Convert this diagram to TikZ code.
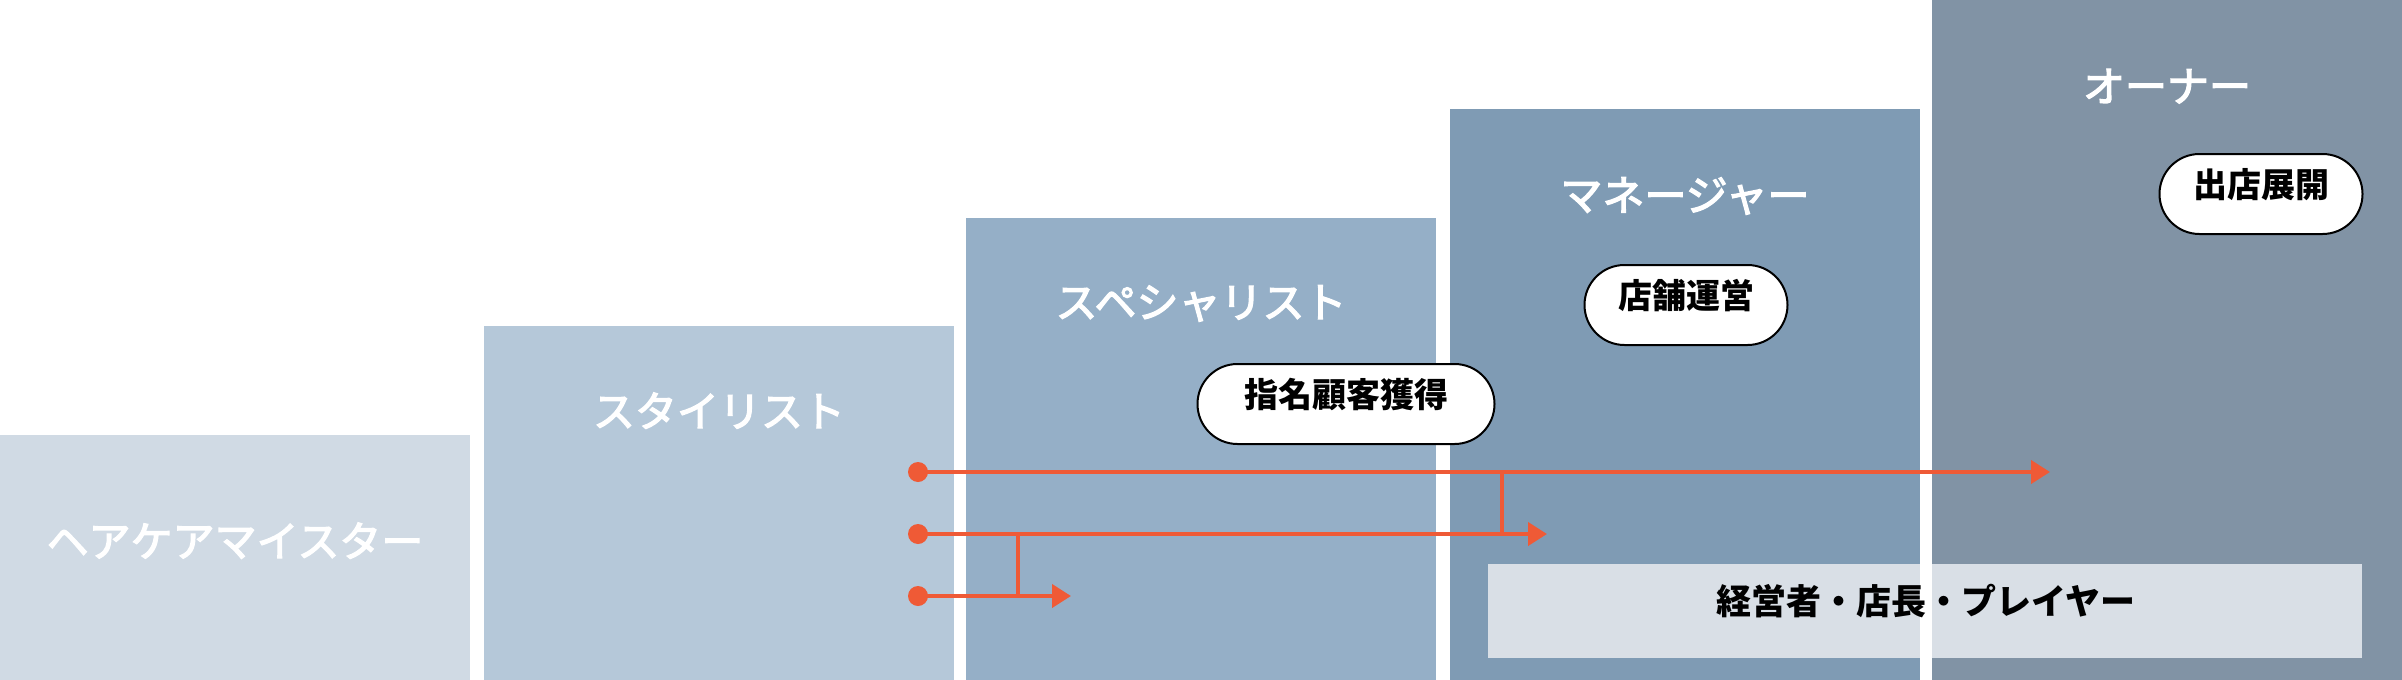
\documentclass[tikz,border=0pt]{standalone}
\usepackage{fontspec}
\newfontfamily\jpfont{Noto Sans CJK JP}
\newfontfamily\jpmid{Noto Sans CJK JP}[FakeBold=3]
\usetikzlibrary{positioning,arrows.meta}
\definecolor{stepA}{HTML}{D0DAE4}
\definecolor{stepB}{HTML}{B5C8D9}
\definecolor{stepC}{HTML}{95AFC7}
\definecolor{stepD}{HTML}{7F9BB4}
\definecolor{stepE}{HTML}{8193A5}
\definecolor{roleband}{HTML}{D9DFE6}
\definecolor{pathred}{HTML}{EF5A36}
\tikzset{
	level/.style={fill=#1, draw=none, anchor=north west, inner sep=0pt, minimum width=470pt}, % the stair boxes
	rank/.style={text=white, font=\jpmid\fontsize{42}{42}\selectfont, text height=0.88em, text depth=0.12em, inner sep=0pt}, % titles in the boxes
	badge/.style={draw=black, line width=2pt, fill=white, rounded corners=40pt, minimum height=80pt, inner sep=0pt, font=\jpfont\bfseries\fontsize{34}{34}\selectfont, text height=0.88em, text depth=0.12em}, % white pills
	start/.style={circle, fill=pathred, minimum size=20pt, inner sep=0pt}, % red dots
	route/.style={draw=pathred, line width=4pt, -{Triangle[length=19pt,width=23pt]}}, % red arrows
	joint/.style={draw=pathred, line width=4pt}, % red uprights
}

\begin{document}
\begin{tikzpicture}[x=1pt, y=-1pt]
	\useasboundingbox (0,0) rectangle (2402,680);
	% stairs
	\node[level=stepA, minimum height=245pt] (s1) at (0,435) {};
	\node[level=stepB, minimum height=354pt] (s2) at (484,326) {};
	\node[level=stepC, minimum height=462pt] (s3) at (966,218) {};
	\node[level=stepD, minimum height=571pt] (s4) at (1450,109) {};
	\node[level=stepE, minimum height=680pt] (s5) at (1932,0) {};
	
	\node[rank] (r1) at (235,553) {ヘアケアマイスター};
	\node[rank] (r2) at (719,423) {スタイリスト};
	\node[rank] (r3) at (1201,314) {スペシャリスト};
	\node[rank] (r4) at (1685,207) {マネージャー};
	\node[rank] (r5) at (2167,98) {オーナー};
	
	\node[badge, minimum width=297pt] (p3) at (1346,404) {指名顧客獲得};
	\node[badge, minimum width=203pt] (p4) at (1686,305) {店舗運営};
	\node[badge, minimum width=203pt] (p5) at (2261,194) {出店展開};
	
	% band across the top two steps
	\fill[roleband] (1488,564) rectangle (1920,658);
	\fill[roleband] (1932,564) rectangle (2362,658);
	\node[font=\jpfont\bfseries\fontsize{35}{35}\selectfont, text height=0.88em, text depth=0.12em, inner sep=0pt] (band) at (1926,611) {経営者・店長・プレイヤー};
	
	% paths
	\node[start] (d1) at (918,472) {};
	\node[start] (d2) at (918,534) {};
	\node[start] (d3) at (918,596) {};
	\coordinate (e1) at (2050,472);
	\coordinate (e2) at (1547,534);
	\coordinate (e3) at (1071,596);
	\coordinate (j1) at (1502,472);
	\coordinate (j2) at (1018,534);
	
	\draw[route] (d1.center) -- (e1);
	\draw[route] (d2.center) -- (e2);
	\draw[route] (d3.center) -- (e3);
	\draw[joint] (j1) -- (j1 |- d2.center);
	\draw[joint] (j2) -- (j2 |- d3.center);
\end{tikzpicture}
\end{document}
